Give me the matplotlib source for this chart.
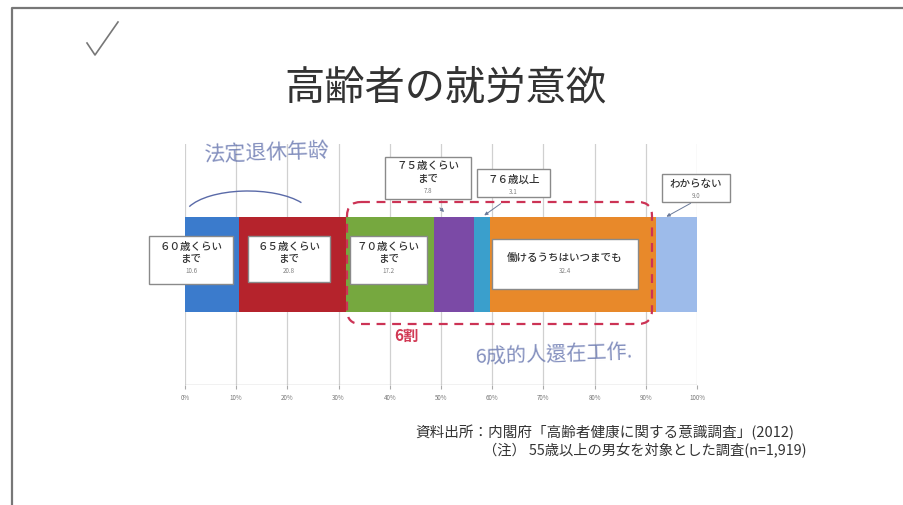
import matplotlib
matplotlib.use("Agg")
import matplotlib.pyplot as plt
from matplotlib.patches import FancyBboxPatch, Rectangle, Arc
import numpy as np

plt.rcParams['font.family'] = ['Noto Sans CJK JP', 'Noto Sans CJK SC', 'DejaVu Sans']

# ---- data ----
categories = ["６０歳くらい\nまで", "６５歳くらい\nまで", "７０歳くらい\nまで", "７５歳くらい\nまで",
              "７６歳以上", "働けるうちはいつまでも", "わからない"]
values = [10.6, 20.8, 17.2, 7.8, 3.1, 32.4, 9.0]
colors = ["#3b7bcc", "#b5232c", "#76a83f", "#7b4aa6", "#3a9fcc", "#e8892a", "#9dbbea"]
tick_values = [0, 10, 20, 30, 40, 50, 60, 70, 80, 90, 100]
tick_labels = [f"{v}%" for v in tick_values]
title = "高齢者の就労意欲"
source_lines = ["資料出所：内閣府「高齢者健康に関する意識調査」(2012)",
                "（注） 55歳以上の男女を対象とした調査(n=1,919)"]

W, H = 904, 506
fig = plt.figure(figsize=(W / 100, H / 100), dpi=100)
fig.patch.set_facecolor("white")

def fx(px): return px / W
def fy(py): return 1 - py / H

# main chart axes: 0% at px 185, 100% at px 697; grid from y 145 to 386
ax = fig.add_axes([fx(185), fy(386), (697 - 185) / W, (386 - 145) / H])
ax.set_facecolor("none")
ax.set_xlim(0, 100)
ax.set_ylim(0, 1)
for s in ax.spines.values():
    s.set_visible(False)
ax.set_yticks([])
ax.set_xticks(tick_values)
ax.set_xticklabels(tick_labels, fontsize=4.5, color="#777777")
ax.tick_params(axis="x", length=3, color="#aaaaaa", pad=3)
for t in tick_values:
    ax.axvline(t, color="#d0d0d0", lw=0.9, zorder=0)
ax.axhline(0, color="#bbbbbb", lw=1.0, zorder=1)

lefts = np.concatenate([[0], np.cumsum(values)[:-1]])
# bar spans px y 218..313 -> axes fraction 0.303..0.697
ax.barh([0.5] * len(values), values, left=lefts, height=0.394, color=colors,
        edgecolor="none", zorder=2)

# overlay in pixel coordinates (on top of chart)
ov = fig.add_axes([0, 0, 1, 1], facecolor="none")
ov.set_xlim(0, W); ov.set_ylim(H, 0); ov.axis("off")
ov.plot([12, 12, W], [H, 9, 9], color="#777777", lw=1.6)

# label boxes (pixel layout): x0, x1, y0, y1, y of text lines, y of value, arrow (from, to)
box_layout = [
    (149, 233, 237, 285, [247, 259], 271, None),
    (248, 330, 237, 283, [247, 259], 271, None),
    (350, 427, 237, 285, [247, 259], 271, None),
    (385, 471, 158, 200, [166, 179], 191, ((438, 207), (446, 215))),
    (477, 550, 170, 198, [180], 192, ((503, 203), (482, 218))),
    (492, 638, 240, 290, [258], 271, None),
    (662, 730, 175, 203, [184], 196, ((693, 203), (664, 219))),
]
for cat, val, (x0, x1, y0, y1, lys, vy, arr) in zip(categories, values, box_layout):
    ov.add_patch(Rectangle((x0, y0), x1 - x0, y1 - y0, fc="white", ec="#8a8a8a",
                           lw=1.0, zorder=5))
    xc = (x0 + x1) / 2
    for line, ly in zip(cat.split("\n"), lys):
        ov.text(xc, ly, line, ha="center", va="center", fontsize=7.6,
                color="#333333", fontweight="medium", zorder=6)
    ov.text(xc, vy, f"{val:.1f}", ha="center", va="center", fontsize=4.5,
            color="#808080", zorder=6)
    if arr is not None:
        ov.annotate("", xy=arr[1], xytext=arr[0],
                    arrowprops=dict(arrowstyle="-|>", color="#6a7a9a", lw=0.7,
                                    mutation_scale=5), zorder=4)

# red dashed rounded highlight box
hl = FancyBboxPatch((347, 203), 305, 122, boxstyle="round,pad=0,rounding_size=14",
                    fill=False, ec="#cc3355", lw=1.6, ls=(0, (4, 3)), zorder=7)
ov.add_patch(hl)

# handwritten annotations
ov.text(406, 336, "6割", color="#d23a55", fontsize=11, fontweight="bold",
        ha="center", va="center")
ov.text(203, 153, "法定退休年龄", color="#5a6aa8", fontsize=15, ha="left",
        va="center", rotation=2, fontweight="light",
        family=['Noto Sans CJK SC', 'DejaVu Sans'], alpha=0.75)
ov.text(475, 354, "6成的人還在工作.", color="#5a6aa8", fontsize=14.5, ha="left",
        va="center", rotation=2, fontweight="light",
        family=['Noto Sans CJK TC', 'DejaVu Sans'], alpha=0.75)
ov.add_patch(Arc((248, 218), 128, 52, theta1=190, theta2=345, color="#5a6aa8", lw=1.0))
ov.plot([87, 95, 118], [44, 56, 23], color="#777777", lw=1.2)

# title
ov.text(445, 88, title, ha="center", va="center", fontsize=29, color="#333333")

# source notes
ov.text(415, 432, source_lines[0], ha="left", va="center", fontsize=10.5, color="#333333")
ov.text(483, 451, source_lines[1], ha="left", va="center", fontsize=10.3, color="#333333")

fig.savefig("out.png", dpi=100, facecolor="white")
